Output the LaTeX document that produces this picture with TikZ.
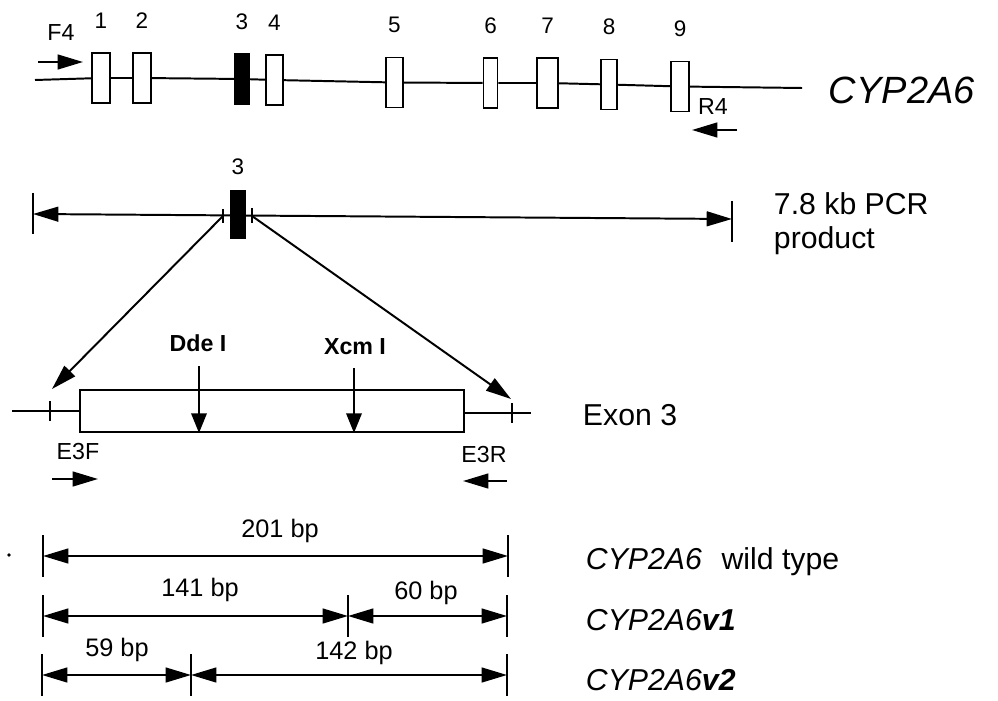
\documentclass[tikz,border=0pt]{standalone}
\usepackage{fontspec}
\setmainfont{Liberation Sans}
\usepackage{tikz}
\usetikzlibrary{arrows.meta,positioning}

\begin{document}
\begin{tikzpicture}[x=0.025cm,y=-0.025cm,line width=1.4pt,
  >={Triangle[length=18pt,width=10.5pt]},
  exon/.style={draw,fill=white,inner sep=0pt,minimum height=1.25cm},
  num/.style={font=\fontsize{16}{19}\selectfont,inner sep=0pt},
  primer/.style={font=\fontsize{16.5}{19}\selectfont,inner sep=0pt},
  enz/.style={font=\bfseries\fontsize{16.5}{19}\selectfont,inner sep=0pt},
  bp/.style={font=\fontsize{18}{21}\selectfont,inner sep=0pt},
  big/.style={font=\fontsize{21.5}{24}\selectfont,inner sep=0pt,anchor=west,align=left},
  cut/.style={-{Triangle[length=14pt,width=11pt]}}]
\useasboundingbox (0,0) rectangle (998,701);

\coordinate (g0) at (35,80);
\coordinate (g1) at (802,88);
\foreach \n/\x/\y/\w in {1/101/78/18,2/142/78/18,3/242/79/14,4/274.5/80/17,5/394.5/82.5/17,
  6/490.5/83/14,7/547.5/83/21,8/609/84.5/16,9/680/86.5/18}
  \node[exon,minimum width=\w*0.025cm] (e\n) at (\x,\y) {};
\fill (e3.south west) rectangle (e3.north east);
\foreach \n in {1,...,9}
  \node[num,above=0.56cm of e\n] (n\n) {\n};
\draw (g0)--(e1)--(e2)--(e3)--(e4)--(e5)--(e6)--(e7)--(e8)--(e9)--(g1);
\node[primer] (f4) at (61,33) {F4};
\coordinate (f4a) at (38,62);
\coordinate (f4b) at (83,62);
\draw[->] (f4a)--(f4b);
\node[primer] (r4) at (713,107) {R4};
\coordinate (r4a) at (737,130);
\coordinate (r4b) at (692,130);
\draw[->] (r4a)--(r4b);
\node[font=\itshape\fontsize{27}{30}\selectfont,inner sep=0pt,anchor=west] (gene) at (828,90) {CYP2A6};

\coordinate (pl) at (33,214);
\coordinate (pr) at (732,219);
\draw[<->] (pl)--(pr);
\draw (pl)++(0,-21)--++(0,41);
\draw (pr)++(0,-18)--++(0,41);
\node[exon,fill=black,minimum width=14*0.025cm,minimum height=47*0.025cm] (x3) at (238,214.5) {};
\node[num] (n3b) at (238,167) {3};
\coordinate (sl) at (223,216);
\coordinate (sr) at (252,216);
\draw (sl)++(0,-7)--++(0,14);
\draw (sr)++(0,-8)--++(0,15);
\node[big] (pcr) at (773,224) {7.8 kb PCR\\product};

\node[exon,minimum width=384*0.025cm,minimum height=42*0.025cm] (ex3) at (272,411) {};
\coordinate (el) at (12,411);
\coordinate (er) at (531,413);
\coordinate (tl) at (50,411);
\coordinate (tr) at (512,413);
\draw (el)--(ex3.west);
\draw (ex3.east|-er)--(er);
\draw (tl)++(0,-10)--++(0,20);
\draw (tr)++(0,-10)--++(0,20);
\coordinate (al) at (52,389);
\coordinate (ar) at (511,399);
\draw[->] (sl)--(al);
\draw[->] (sr)--(ar);
\node[big] (lex) at (582,415) {Exon 3};
\node[enz] (dde) at (198,343) {Dde I};
\node[enz] (xcm) at (355,347) {Xcm I};
\coordinate (dd) at (199,366);
\coordinate (xc) at (354,368);
\draw[cut] (dd)--(dd|-ex3.south);
\draw[cut] (xc)--(xc|-ex3.south);
\node[primer] (e3f) at (78,452) {E3F};
\node[primer] (e3r) at (484,455) {E3R};
\coordinate (e3fa) at (52,479);
\coordinate (e3fb) at (98,479);
\coordinate (e3ra) at (507,481);
\coordinate (e3rb) at (463,481);
\draw[->] (e3fa)--(e3fb);
\draw[->] (e3ra)--(e3rb);

\coordinate (d1l) at (43,556);
\coordinate (d1r) at (508,556);
\coordinate (d2l) at (43,616);
\coordinate (d2m) at (348,616);
\coordinate (d2r) at (507,616);
\coordinate (d3l) at (42,675);
\coordinate (d3m) at (191,675);
\coordinate (d3r) at (507,675);
\foreach \c in {d1l,d1r,d2l,d2m,d2r,d3l,d3m,d3r}
  \draw (\c)++(0,-21)--++(0,42);
\draw[<->] (d1l)--(d1r);
\draw[<->] (d2l)--(d2m);
\draw[<->] (d2m)--(d2r);
\draw[<->] (d3l)--(d3m);
\draw[<->] (d3m)--(d3r);
\node[bp] (w201) at (280,531) {201 bp};
\node[bp] (v141) at (200,590) {141 bp};
\node[bp] (v60) at (426,593) {60 bp};
\node[bp] (v59) at (117,650) {59 bp};
\node[bp] (v142) at (354,653) {142 bp};
\node[big] (wt) at (585,562) {\textit{CYP2A6}\hspace{0.65em}wild type};
\node[big] (v1) at (585,620) {\textit{CYP2A6\textbf{v1}}};
\node[big] (v2) at (585,680) {\textit{CYP2A6\textbf{v2}}};
\fill (9,555) circle (1.8);
\end{tikzpicture}
\end{document}
